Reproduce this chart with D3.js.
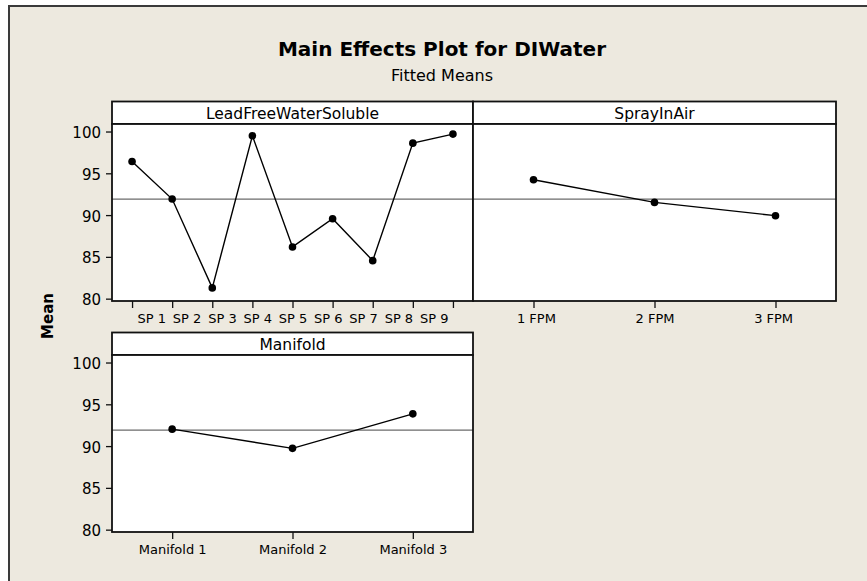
<!DOCTYPE html>
<html>
<head>
<meta charset="utf-8">
<script src="https://cdn.jsdelivr.net/npm/d3@7"></script>
<style>
	html,body{margin:0;padding:0;background:#ffffff;}
	svg{display:block;font-family:"DejaVu Sans",Verdana,sans-serif;}
</style>
</head>
<body>
<div id="chart"></div>
<script>
//データ
const titleText = "Main Effects Plot for DIWater";
const subtitleText = "Fitted Means";
const yLabel = "Mean";

const spLevels = ["SP 1","SP 2","SP 3","SP 4","SP 5","SP 6","SP 7","SP 8","SP 9"];
const spMeans = [96.42, 91.92, 81.29, 99.49, 86.19, 89.57, 84.55, 98.61, 99.69];

const sprayLevels = ["1 FPM","2 FPM","3 FPM"];
const sprayMeans = [94.23, 91.52, 89.93];

const manifoldLevels = ["Manifold 1","Manifold 2","Manifold 3"];
const manifoldMeans = [92.03, 89.73, 93.86];

const grandMean = 91.9;
const yTicks = [80, 85, 90, 95, 100];
const yDomain = [79.72, 100.9];

//レイアウト
const width = 867, height = 581;
const stripH = 22.5, plotH = 177;

//squeeze: 目盛ラベルの間隔の詰め具合（元画像ではSPのラベルが詰まって描かれている）
const panels = [
	{name:"LeadFreeWaterSoluble", levels:spLevels, means:spMeans, x0:112, w:361, top:101.5, yAxis:true, squeeze:0.88},
	{name:"SprayInAir", levels:sprayLevels, means:sprayMeans, x0:473, w:363, top:101.5, yAxis:false, squeeze:0.98},
	{name:"Manifold", levels:manifoldLevels, means:manifoldMeans, x0:112, w:361, top:332.5, yAxis:true, squeeze:1}
];

const svg = d3.select("#chart").append("svg")
	.attr("width", width)
	.attr("height", height);

//背景と外枠
svg.append("rect")
	.attr("x", 9).attr("y", 6)
	.attr("width", width + 20).attr("height", height + 20)
	.attr("fill", "#ede9df")
	.attr("stroke", "#3a3a3a")
	.attr("stroke-width", 2);

//タイトル
svg.append("text")
	.attr("x", 442).attr("y", 56)
	.attr("text-anchor", "middle")
	.attr("font-size", 20)
	.attr("font-weight", "bold")
	.attr("fill", "#000")
	.text(titleText);

svg.append("text")
	.attr("x", 442).attr("y", 81)
	.attr("text-anchor", "middle")
	.attr("font-size", 16)
	.attr("fill", "#000")
	.text(subtitleText);

svg.append("text")
	.attr("transform", "translate(53,316) rotate(-90)")
	.attr("text-anchor", "middle")
	.attr("font-size", 15)
	.attr("font-weight", "bold")
	.attr("fill", "#000")
	.text(yLabel);

//パネル描画
function drawPanel(p){
	let plotTop = p.top + stripH;
	let plotBottom = plotTop + plotH;
	let cx = p.x0 + p.w / 2;

	let x = d3.scalePoint()
		.domain(p.levels)
		.range([p.x0, p.x0 + p.w])
		.padding(0.5);

	let y = d3.scaleLinear()
		.domain(yDomain)
		.range([plotBottom, plotTop]);

	let g = svg.append("g").attr("class", "panel");

	//ストリップ
	g.append("rect")
		.attr("x", p.x0).attr("y", p.top)
		.attr("width", p.w).attr("height", stripH)
		.attr("fill", "#fff")
		.attr("stroke", "#111")
		.attr("stroke-width", 1.8);

	g.append("text")
		.attr("x", cx)
		.attr("y", p.top + 17)
		.attr("text-anchor", "middle")
		.attr("font-size", 15.5)
		.attr("fill", "#000")
		.text(p.name);

	//プロット領域
	g.append("rect")
		.attr("x", p.x0).attr("y", plotTop)
		.attr("width", p.w).attr("height", plotH)
		.attr("fill", "#fff");

	//総平均線
	g.append("line")
		.attr("x1", p.x0).attr("x2", p.x0 + p.w)
		.attr("y1", y(grandMean)).attr("y2", y(grandMean))
		.attr("stroke", "#6b6b6b")
		.attr("stroke-width", 1.2);

	//X軸
	let xAxis = g.append("g")
		.attr("transform", "translate(0," + plotBottom + ")")
		.call(d3.axisBottom(x).tickSize(7).tickPadding(6));
	xAxis.select(".domain").remove();
	xAxis.selectAll(".tick line").attr("stroke", "#111").attr("stroke-width", 1.3);
	xAxis.selectAll(".tick text")
		.attr("font-family", "DejaVu Sans, Verdana, sans-serif")
		.attr("font-size", 13)
		.attr("fill", "#000")
		.attr("x", function(d){ return (x(d) - cx) * (p.squeeze - 1); });

	//Y軸
	if(p.yAxis){
		let yAxis = g.append("g")
			.attr("transform", "translate(" + p.x0 + ",0)")
			.call(d3.axisLeft(y).tickValues(yTicks).tickSize(6).tickPadding(5));
		yAxis.select(".domain").remove();
		yAxis.selectAll(".tick line").attr("stroke", "#111").attr("stroke-width", 1.3);
		yAxis.selectAll(".tick text")
			.attr("font-family", "DejaVu Sans, Verdana, sans-serif")
			.attr("font-size", 15)
			.attr("dy", "0.4em")
			.attr("fill", "#000");
	}

	//折れ線と点
	let pts = p.levels.map(function(lv, i){ return [lv, p.means[i]]; });
	let line = d3.line()
		.x(function(d){ return x(d[0]); })
		.y(function(d){ return y(d[1]); });

	g.append("path")
		.datum(pts)
		.attr("d", line)
		.attr("fill", "none")
		.attr("stroke", "#000")
		.attr("stroke-width", 1.4);

	g.selectAll(".pt")
		.data(pts)
		.enter()
		.append("circle")
		.attr("class", "pt")
		.attr("cx", function(d){ return x(d[0]); })
		.attr("cy", function(d){ return y(d[1]); })
		.attr("r", 3.8)
		.attr("fill", "#000");

	//枠
	g.append("rect")
		.attr("x", p.x0).attr("y", plotTop)
		.attr("width", p.w).attr("height", plotH)
		.attr("fill", "none")
		.attr("stroke", "#111")
		.attr("stroke-width", 1.8);
}

for(let i = 0; i < panels.length; i++){
	drawPanel(panels[i]);
}
</script>
</body>
</html>
